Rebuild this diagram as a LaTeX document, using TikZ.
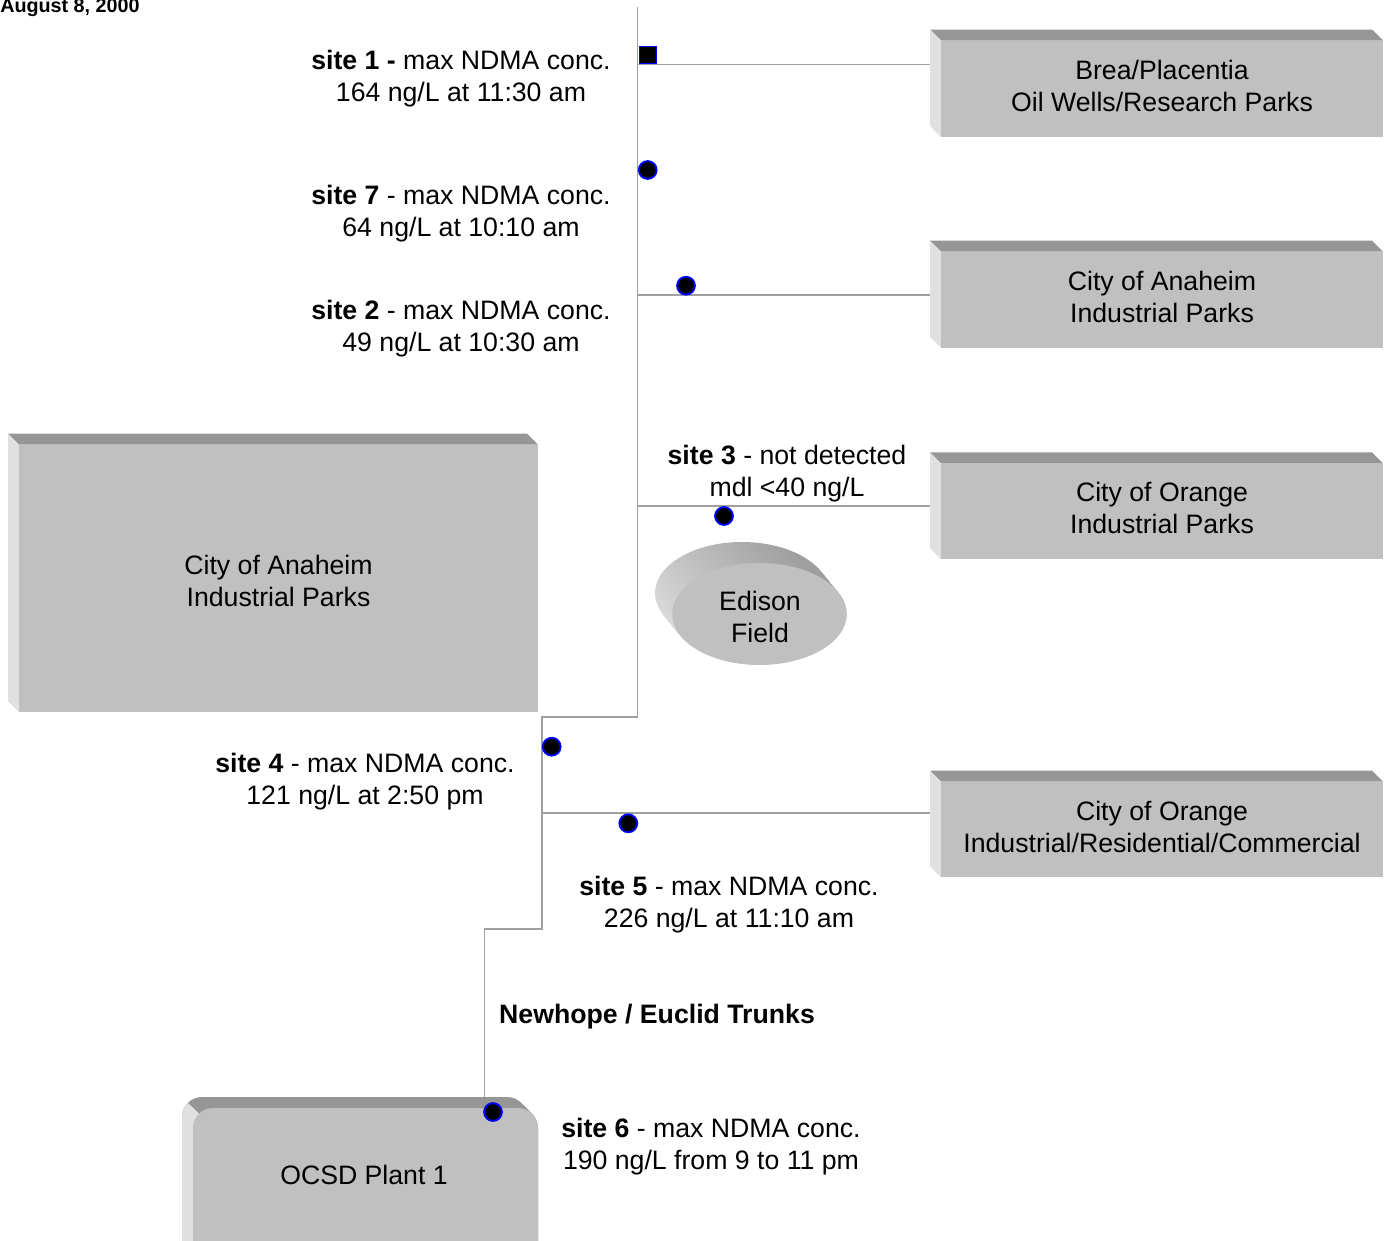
\documentclass[tikz,border=0pt]{standalone}
\usepackage{fontspec}
\setmainfont{Liberation Sans}
\usetikzlibrary{shapes.geometric}
\definecolor{facec}{HTML}{C0C0C0}
\definecolor{topb}{HTML}{969696}
\definecolor{leftb}{HTML}{E0E0E0}
\definecolor{pipec}{HTML}{A0A0A0}
\definecolor{elight}{HTML}{D8D8D8}
\definecolor{edark}{HTML}{9E9E9E}
\tikzset{
  pipe/.style={draw=pipec, line width=1.4pt},
  sitedot/.style={circle, fill=black, draw=blue, line width=1.4pt, minimum size=13.4pt, inner sep=0pt},
  sitesq/.style={rectangle, fill=black, draw=blue, line width=1.2pt, minimum size=12.5pt, inner sep=0pt},
  lbl/.style={font=\fontsize{20}{24}\selectfont, align=center, inner sep=0pt},
  boxnode/.style={draw=none, inner sep=0pt, rectangle},
}
% name, x0, y0, x1, y1, text y, text
\newcommand{\bevbox}[7]{%
  \fill[topb] (#2,#3) -- (#4-11,#3) -- (#4,#3+11) -- (#2+11,#3+11) -- cycle;
  \fill[leftb] (#2,#3) -- (#2+11,#3+11) -- (#2+11,#5) -- (#2,#5-11) -- cycle;
  \fill[facec] (#2+11,#3+11) rectangle (#4,#5);
  \node[boxnode, minimum width={(#4-#2)*0.75pt}, minimum height={(#5-#3)*0.75pt}] (#1) at ({(#2+#4)/2},{(#3+#5)/2}) {};
  \node[lbl] (#1-t) at ({(#2+11+#4)/2},#6) {#7};
}
\begin{document}
\begin{tikzpicture}[x=0.75pt,y=-0.75pt]
\useasboundingbox (0,0) rectangle (1389,1240);
\clip (0,0) rectangle (1389,1240);

% boxes
\bevbox{brea}{930}{29.5}{1383}{137}{86}{Brea/Placentia\\Oil Wells/Research Parks}
\bevbox{anaR}{930}{240.7}{1383}{347.7}{297}{City of Anaheim\\Industrial Parks}
\bevbox{orng}{930}{452.3}{1383}{559}{508}{City of Orange\\Industrial Parks}
\bevbox{irc}{930}{770.7}{1383}{877.3}{827}{City of Orange\\Industrial/Residential/Commercial}
\bevbox{anaL}{8}{433.5}{538}{712}{581}{City of Anaheim\\Industrial Parks}

% OCSD rounded beveled box
\foreach \t in {0,1,...,11} \fill[topb, rounded corners=15pt] (182+\t,1097+\t) rectangle (527+\t,1270+\t);
\begin{scope}
  \clip (82,997) -- (582,1497) -- (82,1497) -- cycle;
  \foreach \t in {0,1,...,11} \fill[leftb, rounded corners=15pt] (182+\t,1097+\t) rectangle (527+\t,1270+\t);
\end{scope}
\fill[facec, rounded corners=15pt] (193,1108) rectangle (538,1281);
\node[boxnode, minimum width={356*0.75pt}, minimum height={163*0.75pt}] (ocsd) at (360,1178.5) {};
\node[lbl] (ocsd-t) at (364,1175) {OCSD Plant 1};

% Edison Field
\foreach \t in {0,0.04,...,0.97} \shade[top color=elight, bottom color=edark, shading angle=135] ({742+17*\t},{593+21*\t}) ellipse [x radius=87, y radius=51];
\node[ellipse, fill=facec, minimum width=131pt, minimum height=76.5pt, inner sep=0pt] (edison) at (759.5,614) {};
\node[lbl] (edison-t) at (760,616.5) {Edison\\Field};

% pipes
\coordinate (top) at (637.5,7);
\coordinate (j1) at (637.5,64.5);
\coordinate (j2) at (637.5,295);
\coordinate (j3) at (637.5,505.7);
\coordinate (k1) at (637.5,717.3);
\coordinate (k2) at (542,717.3);
\coordinate (j4) at (542,813.3);
\coordinate (k3) at (542,929);
\coordinate (k4) at (484.5,929);
\draw[pipe] (top) -- (k1) -- (k2) -- (k3) -- (k4) -- (k4 |- ocsd.north);
\draw[pipe] (j1) -- (j1 -| brea.west);
\draw[pipe] (j2) -- (j2 -| anaR.west);
\draw[pipe] (j3) -- (j3 -| orng.west);
\draw[pipe] (j4) -- (j4 -| irc.west);

% sampling sites
\node[sitesq] (d1) at (648,55) {};
\node[sitedot] (d7) at (647.7,170) {};
\node[sitedot] (d2) at (686,285.7) {};
\node[sitedot] (d3) at (724,516) {};
\node[sitedot] (d4) at (551.7,746.7) {};
\node[sitedot] (d5) at (628.3,823.3) {};
\node[sitedot] (d6) at (493,1112) {};

% labels
\node[font=\fontsize{14.8}{17}\selectfont\bfseries, anchor=base west, inner sep=0pt] (date) at (0,12.5) {August 8, 2000};
\node[lbl] (s1) at (461,79) {\textbf{site 1 -} max NDMA conc.\\164 ng/L at 11:30 am};
\node[lbl] (s7) at (461,214) {\textbf{site 7} - max NDMA conc.\\64 ng/L at 10:10 am};
\node[lbl] (s2) at (461,329) {\textbf{site 2} - max NDMA conc.\\49 ng/L at 10:30 am};
\node[lbl] (s3) at (787,474) {\textbf{site 3} - not detected\\mdl <40 ng/L};
\node[lbl] (s4) at (365,782) {\textbf{site 4} - max NDMA conc.\\121 ng/L at 2:50 pm};
\node[lbl] (s5) at (729,905) {\textbf{site 5} - max NDMA conc.\\226 ng/L at 11:10 am};
\node[lbl] (s6) at (711,1147) {\textbf{site 6} - max NDMA conc.\\190 ng/L from 9 to 11 pm};
\node[lbl, font=\fontsize{20}{24}\selectfont\bfseries] (trunk) at (657,1017) {Newhope / Euclid Trunks};
\end{tikzpicture}
\end{document}
